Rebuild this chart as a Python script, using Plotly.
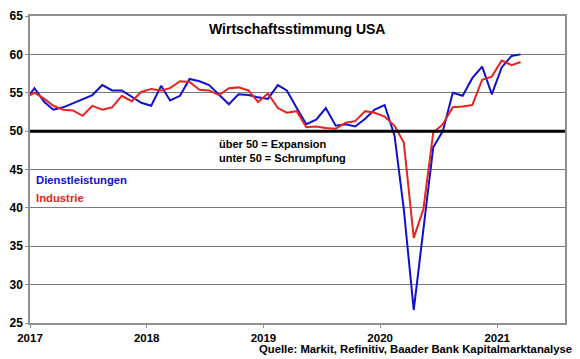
import plotly.graph_objects as go
import pandas as pd

months = pd.date_range("2016-12-01", "2021-03-01", freq="MS") + pd.Timedelta(days=14)

dienstleistungen = [
    53.9,
    55.6, 53.8, 52.8, 53.1, 53.6, 54.2, 54.7, 56.0, 55.3, 55.3, 54.5, 53.7,
    53.3, 55.9, 54.0, 54.6, 56.8, 56.5, 56.0, 54.8, 53.5, 54.8, 54.7, 54.4,
    54.2, 56.0, 55.3, 53.0, 50.9, 51.5, 53.0, 50.7, 50.9, 50.6, 51.6, 52.8,
    53.4, 49.4, 39.8, 26.7, 37.5, 47.9, 50.0, 55.0, 54.6, 56.9, 58.4, 54.8,
    58.3, 59.8, 60.0,
]
industrie = [
    54.3,
    55.0, 54.2, 53.3, 52.8, 52.7, 52.0, 53.3, 52.8, 53.1, 54.6, 53.9, 55.1,
    55.5, 55.3, 55.6, 56.5, 56.4, 55.4, 55.3, 54.7, 55.6, 55.7, 55.3, 53.8,
    54.9, 53.0, 52.4, 52.6, 50.5, 50.6, 50.4, 50.3, 51.1, 51.3, 52.6, 52.4,
    51.9, 50.7, 48.5, 36.1, 39.8, 49.8, 50.9, 53.1, 53.2, 53.4, 56.7, 57.1,
    59.2, 58.6, 59.0,
]
year_ticks = ["2017-01-01", "2018-01-01", "2019-01-01", "2020-01-01", "2021-01-01"]
year_labels = ["2017", "2018", "2019", "2020", "2021"]
y_ticks = [25, 30, 35, 40, 45, 50, 55, 60, 65]

BLUE = "#1010CC"
RED = "#E62420"
FONT = "Liberation Sans, Arial, sans-serif"

fig = go.Figure()
fig.add_trace(go.Scatter(x=months, y=dienstleistungen, mode="lines",
                         line=dict(color=BLUE, width=2), name="Dienstleistungen"))
fig.add_trace(go.Scatter(x=months, y=industrie, mode="lines",
                         line=dict(color=RED, width=2), name="Industrie"))

fig.add_shape(type="line", xref="paper", x0=0, x1=1, yref="y", y0=50, y1=50,
              line=dict(color="black", width=3))

fig.update_layout(
    width=572, height=351,
    margin=dict(l=22, r=15, t=8, b=36, autoexpand=False),
    paper_bgcolor="white", plot_bgcolor="white",
    showlegend=False,
    font=dict(family=FONT, size=11, color="black"),
    xaxis=dict(
        range=["2017-01-01", "2021-08-01"],
        tickvals=year_ticks, ticktext=year_labels,
        showgrid=False, showline=True, linecolor="#909090", linewidth=1.5,
        mirror=True, ticks="outside", ticklen=3, tickcolor="#909090",
        tickfont=dict(family=FONT, size=11.5, color="black", weight="bold"),
        zeroline=False, automargin=False,
    ),
    yaxis=dict(
        range=[25, 65], tickvals=y_ticks,
        showgrid=True, gridcolor="#7a7a7a", gridwidth=1,
        showline=True, linecolor="#909090", linewidth=1.5, mirror=True,
        ticks="outside", ticklen=3, tickcolor="#909090",
        tickfont=dict(family=FONT, size=12, color="black", weight="bold"),
        zeroline=False, automargin=False,
    ),
)

fig.add_annotation(text="<b>Wirtschaftsstimmung USA</b>", xref="paper", yref="paper",
                   x=(297 - 30) / 535, y=(323 - 29) / 307, xanchor="center", yanchor="middle",
                   showarrow=False, font=dict(family=FONT, size=14, color="black"))
fig.add_annotation(text="<b>über 50 = Expansion<br>unter 50 = Schrumpfung</b>", xref="paper", yref="paper",
                   x=(217 - 30) / 535, y=(323 - 151) / 307, xanchor="left", yanchor="middle",
                   align="left", showarrow=False, font=dict(family=FONT, size=11, color="black"))
fig.add_annotation(text="<b>Dienstleistungen</b>", xref="paper", yref="paper",
                   x=(34 - 30) / 535, y=(323 - 180) / 307, xanchor="left", yanchor="middle",
                   showarrow=False, font=dict(family=FONT, size=11.3, color=BLUE))
fig.add_annotation(text="<b>Industrie</b>", xref="paper", yref="paper",
                   x=(34 - 30) / 535, y=(323 - 198) / 307, xanchor="left", yanchor="middle",
                   showarrow=False, font=dict(family=FONT, size=11.3, color=RED))
fig.add_annotation(text="<b>Quelle: Markit, Refinitiv, Baader Bank Kapitalmarktanalyse</b>",
                   xref="paper", yref="paper", x=(574 - 30) / 535, y=(323 - 349) / 307,
                   xanchor="right", yanchor="middle", showarrow=False,
                   font=dict(family=FONT, size=11.3, color="black"))

fig.write_html("out.html")
